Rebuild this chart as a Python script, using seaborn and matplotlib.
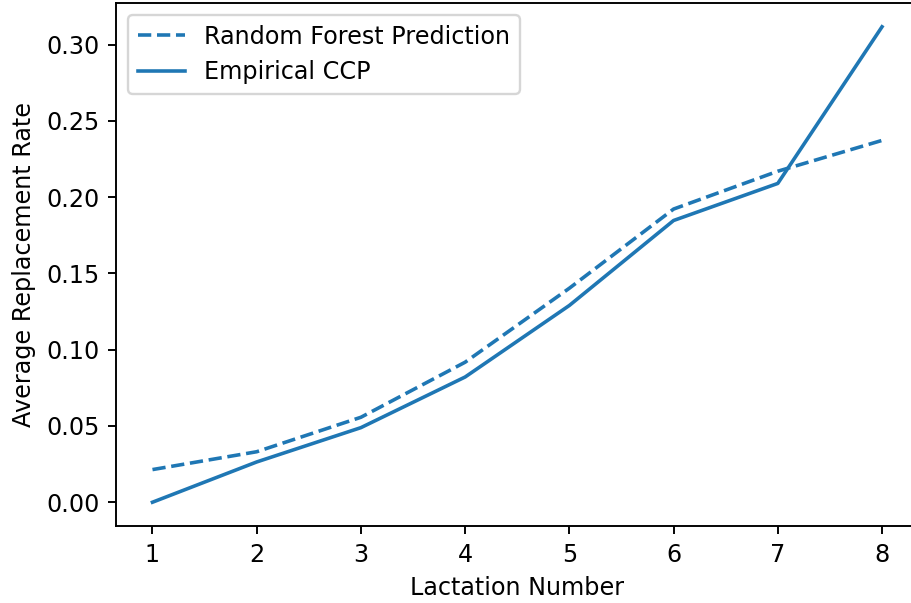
# import libraries
import pandas as pd
import numpy as np
import matplotlib
matplotlib.use("Agg")
import matplotlib.pyplot as plt
import seaborn as sns

# values
lactation = [1, 2, 3, 4, 5, 6, 7, 8]
rf_pred = [0.0214, 0.0331, 0.0557, 0.0918, 0.1403, 0.1922, 0.2170, 0.2372]
empirical = [0.0000, 0.0264, 0.0489, 0.0821, 0.1290, 0.1847, 0.2090, 0.3117]

df = pd.DataFrame({'Lactation': lactation, 'RF': rf_pred, 'CCP': empirical})

DPI = 172
fig, ax = plt.subplots(figsize=(911/DPI, 603/DPI), dpi=DPI)
# the reference is cropped a little on the right, so the axes run past the edge
fig.subplots_adjust(left=116/911, right=918.5/911, top=1-3/603, bottom=1-526/603)

sns.lineplot(data=df, x='Lactation', y='RF', ax=ax, color='#1f77b4',
             linestyle='--', label='Random Forest Prediction')
sns.lineplot(data=df, x='Lactation', y='CCP', ax=ax, color='#1f77b4',
             linestyle='-', label='Empirical CCP')

ax.set_xticks(lactation)
ax.set_yticks([0.0, 0.05, 0.10, 0.15, 0.20, 0.25, 0.30])
ax.set_yticklabels(['0.00', '0.05', '0.10', '0.15', '0.20', '0.25', '0.30'])
ax.set_xlabel('Lactation Number')
ax.set_ylabel('Average Replacement Rate')
ax.legend(loc='upper left')

fig.savefig('out.png', dpi=DPI)
